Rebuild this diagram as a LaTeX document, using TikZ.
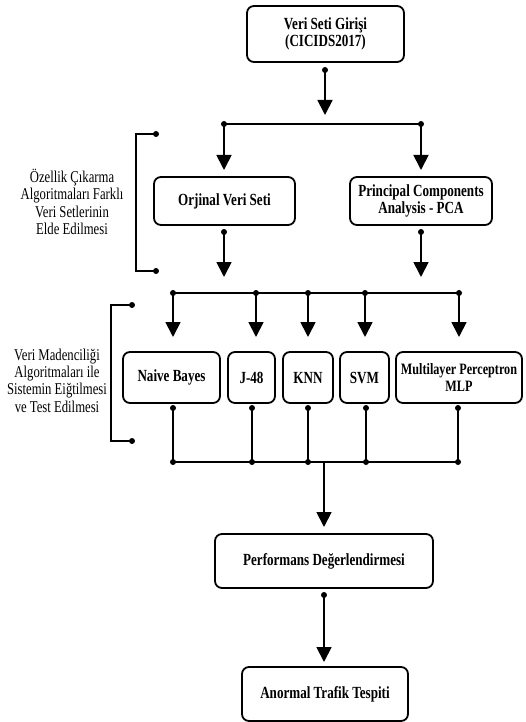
\documentclass[tikz,border=0pt]{standalone}
\usepackage{fontspec}
\setmainfont[FakeStretch=0.77]{Liberation Serif}
\usetikzlibrary{arrows.meta}
\begin{document}
\begin{tikzpicture}[x=1pt,y=-1pt,
  box/.style={draw, line width=1.8pt, rounded corners=7pt, inner sep=0pt, align=center,
    font=\fontsize{17}{17.5}\selectfont\bfseries},
  side/.style={inner sep=0pt, align=center, font=\fontsize{16.5}{17.3}\selectfont},
  conn/.style={line width=1.8pt},
  arr/.style={line width=1.8pt, -{Triangle[width=15pt,length=15pt]}},
  dot/.style={circle, fill, inner sep=0pt, minimum size=6pt}]
\useasboundingbox (0,0) rectangle (526,722);

% boxes
\node[box, minimum width=157pt, minimum height=56pt] (top) at (325.5,34) {Veri Seti Girişi\\(CICIDS2017)};
\node[box, minimum width=141pt, minimum height=48pt] (orig) at (224.5,201) {Orjinal Veri Seti};
\node[box, minimum width=142pt, minimum height=48pt] (pca) at (421,201) {Principal Components\\Analysis - PCA};
\node[box, minimum width=97pt, minimum height=51pt] (nb) at (171.5,377.5) {Naive Bayes};
\node[box, minimum width=47pt, minimum height=51pt] (j48) at (251.5,377.5) {J-48};
\node[box, minimum width=50pt, minimum height=51pt] (knn) at (308,377.5) {KNN};
\node[box, minimum width=49pt, minimum height=51pt] (svm) at (364.5,377.5) {SVM};
\node[box, minimum width=126pt, minimum height=51pt, font=\fontsize{15.8}{16.5}\selectfont\bfseries] (mlp) at (459,377.5) {Multilayer Perceptron\\MLP};
\node[box, minimum width=218pt, minimum height=54pt] (perf) at (324,561) {Performans Değerlendirmesi};
\node[box, minimum width=166pt, minimum height=54pt] (anom) at (325,694) {Anormal Trafik Tespiti};

% side labels
\node[side] (lab1) at (72,202) {Özellik Çıkarma\\Algoritmaları Farklı\\Veri Setlerinin\\Elde Edilmesi};
\node[side] (lab2) at (57,380.5) {Veri Madenciliği\\Algoritmaları ile\\Sistemin Eiğtilmesi\\ve Test Edilmesi};

% coordinates
\coordinate (t1) at (325,70);   \coordinate (t2) at (325,115);
\coordinate (hA) at (224,124);  \coordinate (hB) at (421,124);
\coordinate (hAe) at (224,170); \coordinate (hBe) at (421,170);
\coordinate (o1) at (224,232);  \coordinate (o2) at (224,277);
\coordinate (p1) at (421,232);  \coordinate (p2) at (421,277);
\coordinate (g1) at (173,293); \coordinate (g2) at (256,293); \coordinate (g3) at (308,293);
\coordinate (g4) at (365,293); \coordinate (g5) at (459,293);
\coordinate (b1) at (173,408); \coordinate (b2) at (252,408); \coordinate (b3) at (308,408);
\coordinate (b4) at (366,408); \coordinate (b5) at (458,408);
\coordinate (c1) at (173,462); \coordinate (c2) at (252,462); \coordinate (c3) at (308,462);
\coordinate (c4) at (366,462); \coordinate (c5) at (458,462);
\coordinate (m1) at (324,462); \coordinate (m2) at (324,527);
\coordinate (q1) at (324,595); \coordinate (q2) at (324,662);
\coordinate (k1) at (156,134); \coordinate (k2) at (136,134); \coordinate (k3) at (136,271); \coordinate (k4) at (156,271);
\coordinate (l1) at (132,305); \coordinate (l2) at (111,305); \coordinate (l3) at (111,441); \coordinate (l4) at (132,441);

% connectors
\draw[arr] (t1) -- (t2);
\draw[conn] (hA) -- (hB);
\draw[arr] (hA) -- (hAe);
\draw[arr] (hB) -- (hBe);
\draw[arr] (o1) -- (o2);
\draw[arr] (p1) -- (p2);
\draw[conn] (g1) -- (g5);
\foreach \i in {1,...,5} {
  \draw[arr] (g\i) -- ++(0,44);
  \draw[conn] (b\i) -- (c\i);
  \node[dot] at (g\i) {};
  \node[dot] at (b\i) {};
  \node[dot] at (c\i) {};
}
\draw[conn] (c1) -- (c5);
\draw[arr] (m1) -- (m2);
\draw[arr] (q1) -- (q2);
\draw[conn] (k1) -- (k2) -- (k3) -- (k4);
\draw[conn] (l1) -- (l2) -- (l3) -- (l4);
\foreach \c in {t1,hA,hB,o1,p1,q1,k1,k4,l1,l4} \node[dot] at (\c) {};
\end{tikzpicture}
\end{document}
